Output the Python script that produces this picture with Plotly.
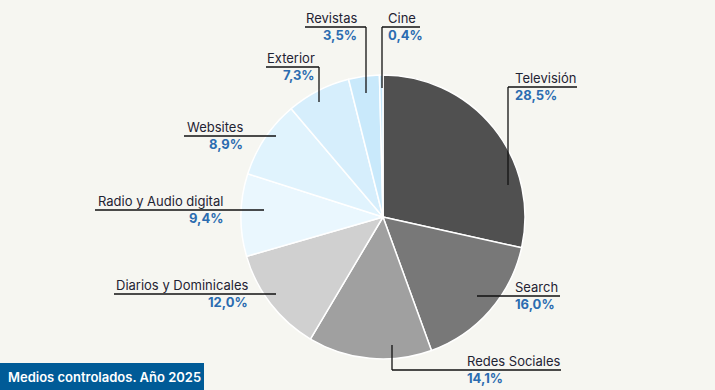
import plotly.graph_objects as go

# ---- data ----
categories = ["Televisión", "Search", "Redes Sociales", "Diarios y Dominicales",
              "Radio y Audio digital", "Websites", "Exterior", "Revistas", "Cine"]
shares = [28.5, 16.0, 14.1, 12.0, 9.4, 8.9, 7.3, 3.5, 0.4]
pct_labels = ["28,5%", "16,0%", "14,1%", "12,0%", "9,4%", "8,9%", "7,3%", "3,5%", "0,4%"]
slice_colors = ["#505050", "#787878", "#a0a0a0", "#d0d0d0", "#eaf7fe",
                "#e0f3fd", "#d6eefc", "#c9e9fb", "#c2e5fa"]
title_text = "Medios controlados. Año 2025"

W, H = 715, 390
BG = "#f6f6f1"
NAME_COLOR = "#1f2333"
PCT_COLOR = "#2b6cb0"
FONT = "Inter, Roboto, sans-serif"

# pie geometry (pixels)
cx, cy, R = 383, 217, 142

fig = go.Figure()
fig.add_trace(go.Pie(
    labels=categories, values=shares, sort=False, direction="clockwise",
    rotation=0, textinfo="none", hoverinfo="label+percent",
    marker=dict(colors=slice_colors, line=dict(color="white", width=1.5)),
    domain=dict(x=[(cx - R) / W, (cx + R) / W],
                y=[(H - cy - R) / H, (H - cy + R) / H]),
    showlegend=False,
))

# label layout: (line y, line x0, line x1, anchor side, text x, elbow point or None)
label_layout = {
    "Televisión": dict(ly=87, x0=508, x1=577, side="left", tx=514, elbow=(508, 185)),
    "Search": dict(ly=296, x0=477, x1=560, side="left", tx=514, elbow=None),
    "Redes Sociales": dict(ly=370, x0=392, x1=561, side="left", tx=466, elbow=(392, 345)),
    "Diarios y Dominicales": dict(ly=294, x0=114, x1=276, side="right", tx=249, elbow=None),
    "Radio y Audio digital": dict(ly=210, x0=95, x1=264, side="right", tx=224, elbow=None),
    "Websites": dict(ly=136, x0=184, x1=276, side="right", tx=244, elbow=None),
    "Exterior": dict(ly=67, x0=266, x1=319, side="right", tx=316, elbow=(319, 102)),
    "Revistas": dict(ly=27, x0=305, x1=366, side="right", tx=358, elbow=(366, 93)),
    "Cine": dict(ly=27, x0=382, x1=420, side="left", tx=387, elbow=(382, 88)),
}

shapes = []
annotations = []
for name, pct in zip(categories, pct_labels):
    L = label_layout[name]
    shapes.append(dict(type="line", xref="x", yref="y", x0=L["x0"], x1=L["x1"],
                       y0=L["ly"], y1=L["ly"], line=dict(color="#111111", width=1.3)))
    if L["elbow"] is not None:
        ex, ey = L["elbow"]
        shapes.append(dict(type="line", xref="x", yref="y", x0=ex, x1=ex,
                           y0=L["ly"], y1=ey, line=dict(color="#111111", width=1.3)))
    annotations.append(dict(x=L["tx"], y=L["ly"] - 0.5, xref="x", yref="y",
                            text=name, showarrow=False, xanchor=L["side"], yanchor="bottom",
                            font=dict(family=FONT, size=13, color=NAME_COLOR), borderpad=0))
    annotations.append(dict(x=L["tx"], y=L["ly"] - 1.5, xref="x", yref="y",
                            text="<b>" + pct + "</b>", showarrow=False, xanchor=L["side"],
                            yanchor="top",
                            font=dict(family=FONT, size=13, color=PCT_COLOR), borderpad=0))

# title box
shapes.append(dict(type="rect", xref="x", yref="y", x0=0, x1=204, y0=363, y1=390,
                   fillcolor="#005b97", line=dict(width=0), layer="below"))
annotations.append(dict(x=6, y=377, xref="x", yref="y", text=title_text, showarrow=False,
                        xanchor="left", yanchor="middle",
                        font=dict(family=FONT, size=13, color="white", weight=600)))

fig.update_layout(
    width=W, height=H, margin=dict(l=0, r=0, t=0, b=0),
    paper_bgcolor=BG, plot_bgcolor="rgba(0,0,0,0)",
    xaxis=dict(range=[0, W], visible=False, fixedrange=True, domain=[0, 1]),
    yaxis=dict(range=[H, 0], visible=False, fixedrange=True, domain=[0, 1]),
    shapes=shapes, annotations=annotations,
)

fig.write_html("out.html", config={"displayModeBar": False},
               post_script="document.body.style.margin='0';document.body.style.overflow='hidden';")
